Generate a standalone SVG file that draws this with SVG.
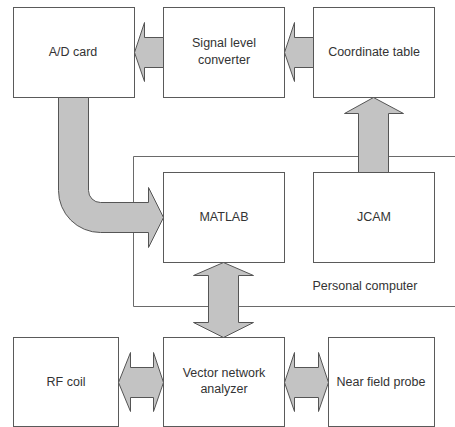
<svg xmlns="http://www.w3.org/2000/svg" width="455" height="427" viewBox="0 0 455 427">
<style>
.box{fill:#fff;stroke:#5a5a5a;stroke-width:1}
.pc{fill:none;stroke:#6a6a6a;stroke-width:1}
.arr{fill:#c3c3c3;stroke:#555;stroke-width:1;stroke-linejoin:miter}
text{font-family:"Liberation Sans",Arial,sans-serif;font-size:12.5px;fill:#333;text-anchor:middle}
</style>
<rect width="455" height="427" fill="#fff"/>
<g id="personal-computer">
<path class="pc" d="M460,156.5 H133.5 V306.5 H460"/>
<text x="365" y="290">Personal computer</text>
</g>
<g id="ad-card"><rect class="box" x="13.5" y="7.5" width="121" height="90"/><text x="73" y="56">A/D card</text></g>
<g id="signal-level-converter"><rect class="box" x="163.5" y="7.5" width="121" height="90"/><text x="224" y="47">Signal level</text><text x="224" y="64">converter</text></g>
<g id="coordinate-table"><rect class="box" x="313.5" y="7.5" width="121" height="90"/><text x="374" y="56">Coordinate table</text></g>
<g id="matlab"><rect class="box" x="163.5" y="172.5" width="121" height="90"/><text x="224" y="221">MATLAB</text></g>
<g id="jcam"><rect class="box" x="313.5" y="172.5" width="121" height="90"/><text x="374" y="221">JCAM</text></g>
<g id="rf-coil"><rect class="box" x="13.5" y="337.5" width="105" height="89"/><text x="66" y="386">RF coil</text></g>
<g id="vector-network-analyzer"><rect class="box" x="163.5" y="337.5" width="121" height="89"/><text x="224" y="377">Vector network</text><text x="224" y="393">analyzer</text></g>
<g id="near-field-probe"><rect class="box" x="328.5" y="337.5" width="106" height="89"/><text x="381" y="386">Near field probe</text></g>
<g id="connectors">
<path class="arr" d="M163.5,37.5 H144.5 V22.5 L134.5,52.5 L144.5,81.5 V67.5 H163.5 Z"/>
<path class="arr" d="M313.5,37.5 H294.5 V22.5 L284.5,52.5 L294.5,81.5 V67.5 H313.5 Z"/>
<path class="arr" d="M358.5,172.5 V113.5 H344.5 L373.5,97.5 L403.5,113.5 H388.5 V172.5 Z"/>
<path class="arr" d="M58.5,97.5 V190.5 A42,42 0 0 0 100.5,232.5 H148.5 V247.5 L163.5,217.5 L148.5,187.5 V202.5 H100.5 A12,12 0 0 1 88.5,190.5 V97.5 Z"/>
<path class="arr" d="M208.5,275.5 H193.5 L223.5,262.5 L253.5,275.5 H238.5 V322.5 H253.5 L223.5,337.5 L193.5,322.5 H208.5 Z"/>
<path class="arr" d="M130.5,367.5 V352.5 L118.5,382.5 L130.5,411.5 V397.5 H153.5 V411.5 L163.5,382.5 L153.5,352.5 V367.5 Z"/>
<path class="arr" d="M294.5,367.5 V352.5 L284.5,382.5 L294.5,411.5 V397.5 H318.5 V411.5 L328.5,382.5 L318.5,352.5 V367.5 Z"/>
</g>
</svg>
